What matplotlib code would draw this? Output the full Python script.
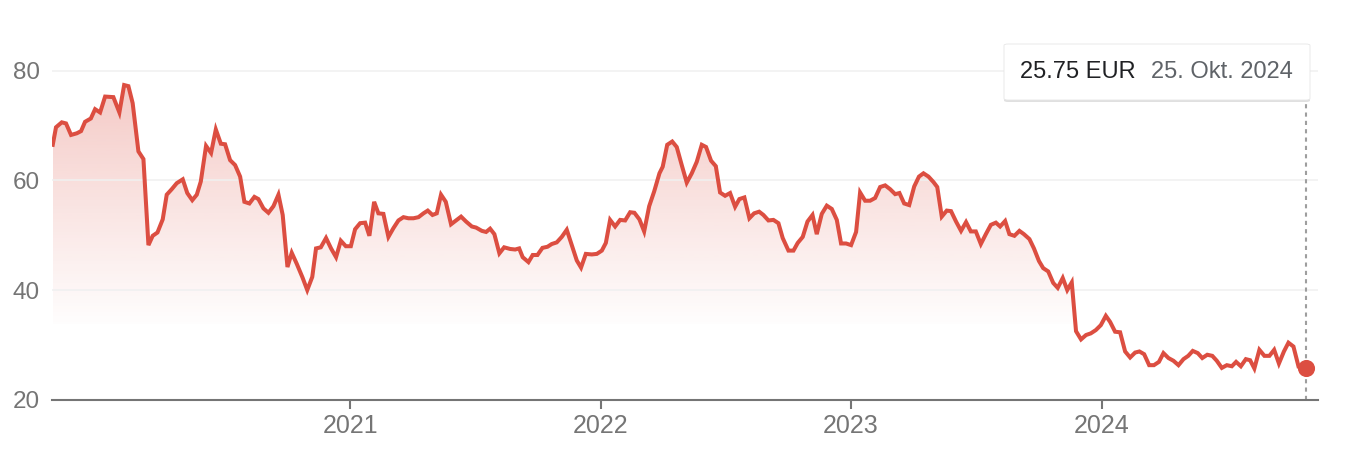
import matplotlib
matplotlib.use("Agg")
import matplotlib.pyplot as plt
import numpy as np
from matplotlib.patches import FancyBboxPatch

# weekly closing price (EUR), x as decimal year
years = [
    2019.813, 2019.826, 2019.849, 2019.866, 2019.886, 2019.909, 2019.926, 2019.942, 2019.965, 2019.982,
    2020.002, 2020.022, 2020.055, 2020.079, 2020.098, 2020.115, 2020.132, 2020.155, 2020.175, 2020.195,
    2020.212, 2020.231, 2020.252, 2020.268, 2020.288, 2020.308, 2020.332, 2020.350, 2020.370, 2020.388,
    2020.404, 2020.425, 2020.445, 2020.464, 2020.484, 2020.501, 2020.521, 2020.541, 2020.561, 2020.578,
    2020.598, 2020.618, 2020.634, 2020.654, 2020.674, 2020.694, 2020.714, 2020.731, 2020.750, 2020.767,
    2020.787, 2020.810, 2020.829, 2020.849, 2020.864, 2020.883, 2020.904, 2020.924, 2020.944, 2020.963,
    2020.983, 2021.003, 2021.020, 2021.040, 2021.060, 2021.077, 2021.096, 2021.113, 2021.133, 2021.153,
    2021.173, 2021.193, 2021.213, 2021.233, 2021.253, 2021.273, 2021.293, 2021.310, 2021.329, 2021.346,
    2021.363, 2021.382, 2021.403, 2021.423, 2021.443, 2021.463, 2021.486, 2021.503, 2021.526, 2021.543,
    2021.559, 2021.576, 2021.596, 2021.615, 2021.639, 2021.659, 2021.675, 2021.689, 2021.712, 2021.729,
    2021.748, 2021.768, 2021.788, 2021.805, 2021.825, 2021.845, 2021.865, 2021.885, 2021.905, 2021.922,
    2021.941, 2021.965, 2021.985, 2022.005, 2022.021, 2022.038, 2022.058, 2022.078, 2022.098, 2022.118,
    2022.135, 2022.155, 2022.174, 2022.194, 2022.214, 2022.235, 2022.248, 2022.266, 2022.286, 2022.304,
    2022.324, 2022.344, 2022.364, 2022.384, 2022.404, 2022.421, 2022.441, 2022.460, 2022.477, 2022.497,
    2022.517, 2022.537, 2022.554, 2022.574, 2022.594, 2022.613, 2022.633, 2022.650, 2022.670, 2022.690,
    2022.710, 2022.727, 2022.750, 2022.770, 2022.787, 2022.807, 2022.826, 2022.846, 2022.863, 2022.883,
    2022.903, 2022.923, 2022.943, 2022.960, 2022.980, 2023.000, 2023.020, 2023.036, 2023.056, 2023.076,
    2023.096, 2023.116, 2023.136, 2023.156, 2023.176, 2023.193, 2023.212, 2023.232, 2023.252, 2023.271,
    2023.289, 2023.309, 2023.329, 2023.344, 2023.362, 2023.382, 2023.399, 2023.419, 2023.439, 2023.459,
    2023.478, 2023.498, 2023.518, 2023.538, 2023.558, 2023.578, 2023.595, 2023.615, 2023.632, 2023.652,
    2023.672, 2023.690, 2023.712, 2023.730, 2023.750, 2023.767, 2023.787, 2023.807, 2023.825, 2023.845,
    2023.863, 2023.881, 2023.898, 2023.918, 2023.938, 2023.957, 2023.977, 2023.997, 2024.017, 2024.034,
    2024.054, 2024.074, 2024.094, 2024.114, 2024.134, 2024.151, 2024.170, 2024.190, 2024.209, 2024.229,
    2024.247, 2024.267, 2024.287, 2024.307, 2024.327, 2024.346, 2024.364, 2024.384, 2024.402, 2024.422,
    2024.442, 2024.460, 2024.480, 2024.500, 2024.520, 2024.537, 2024.556, 2024.576, 2024.593, 2024.610,
    2024.630, 2024.650, 2024.670, 2024.689, 2024.708, 2024.728, 2024.746, 2024.766, 2024.786, 2024.806,
    2024.817,
]
prices = [
    66.5, 69.7, 70.6, 70.4, 68.3, 68.6, 69.0, 70.7, 71.3, 73.0,
    72.4, 75.3, 75.2, 72.4, 77.4, 77.2, 74.1, 65.3, 63.9, 48.2,
    49.9, 50.5, 52.9, 57.4, 58.4, 59.5, 60.2, 57.7, 56.4, 57.4,
    59.8, 66.3, 65.0, 69.3, 66.7, 66.6, 63.7, 62.8, 60.7, 56.1,
    55.8, 57.0, 56.6, 54.9, 54.1, 55.3, 57.4, 53.7, 44.2, 46.8,
    44.8, 42.3, 40.0, 42.4, 47.6, 47.8, 49.5, 47.6, 46.0, 49.0,
    48.0, 48.0, 51.1, 52.2, 52.3, 49.9, 56.1, 54.0, 53.9, 49.7,
    51.3, 52.7, 53.3, 53.1, 53.1, 53.3, 54.0, 54.5, 53.7, 54.0,
    57.4, 56.1, 52.0, 52.7, 53.4, 52.5, 51.6, 51.4, 50.8, 50.6,
    51.2, 50.2, 46.7, 47.8, 47.5, 47.4, 47.6, 46.0, 45.1, 46.4,
    46.4, 47.7, 47.9, 48.4, 48.7, 49.7, 51.0, 48.2, 45.4, 44.1,
    46.6, 46.5, 46.6, 47.2, 48.6, 52.8, 51.6, 52.8, 52.7, 54.2,
    54.1, 52.9, 50.7, 55.3, 58.0, 61.3, 62.5, 66.5, 67.1, 66.1,
    62.8, 59.6, 61.3, 63.4, 66.5, 66.1, 63.6, 62.6, 57.8, 57.2,
    57.7, 55.2, 56.6, 56.9, 53.1, 54.0, 54.3, 53.7, 52.7, 52.8,
    52.2, 49.5, 47.2, 47.2, 48.6, 49.7, 52.5, 53.7, 50.2, 53.9,
    55.4, 54.8, 52.8, 48.5, 48.5, 48.2, 50.6, 57.8, 56.3, 56.3,
    56.8, 58.8, 59.1, 58.4, 57.5, 57.7, 55.8, 55.5, 58.9, 60.7,
    61.3, 60.7, 59.7, 58.8, 53.4, 54.5, 54.4, 52.5, 50.8, 52.4,
    50.7, 50.7, 48.4, 50.2, 51.9, 52.3, 51.6, 52.6, 50.2, 49.9,
    50.8, 50.2, 49.3, 47.6, 45.3, 44.0, 43.4, 41.3, 40.4, 42.2,
    40.0, 41.4, 32.5, 31.0, 31.8, 32.1, 32.7, 33.6, 35.3, 34.2,
    32.4, 32.3, 28.8, 27.7, 28.6, 28.8, 28.3, 26.3, 26.3, 26.9,
    28.5, 27.6, 27.1, 26.3, 27.4, 28.0, 28.9, 28.5, 27.6, 28.2,
    28.0, 27.1, 25.8, 26.3, 26.1, 26.9, 26.1, 27.4, 27.2, 25.7,
    29.1, 28.0, 28.0, 29.1, 26.6, 28.8, 30.4, 29.7, 26.1, 26.3,
    25.75,
]
year_ticks = [2021, 2022, 2023, 2024]
price_ticks = [20, 40, 60, 80]
tip_price = "25.75 EUR"
tip_date = "25. Okt. 2024"

RED = "#dc4e41"
GREY = "#757575"

plt.rcParams["font.family"] = ["Liberation Sans", "DejaVu Sans"]

W, H = 1346, 468
fig = plt.figure(figsize=(W / 100, H / 100), dpi=100)
ax = fig.add_axes([52 / W, 68.3 / H, 1266 / W, 370 / H])

x = np.array(years)
y = np.array(prices)

ax.set_xlim(2019.810, 2024.864)
ax.set_ylim(20, 87.5)

# gradient fill under the line
poly = ax.fill_between(x, y, 20, color="none", lw=0)
grad = np.zeros((256, 1, 4))
grad[..., :3] = matplotlib.colors.to_rgb(RED)
grad[:, 0, 3] = np.linspace(0.30, 0.01, 256)
img = ax.imshow(grad, extent=[x[0], x[-1], 33.8, y.max()], aspect="auto",
                origin="upper", zorder=1, interpolation="bilinear")
img.set_clip_path(poly.get_paths()[0], transform=ax.transData)

ax.plot(x, y, color=RED, lw=2.9, solid_joinstyle="miter", zorder=3)
ax.plot(x[-1], y[-1], "o", color=RED, ms=11.3, zorder=4)

# grid (drawn over the fill, as in the reference)
for v in price_ticks[1:]:
    ax.axhline(v, color="#f0f0f0", lw=1.4, alpha=0.8, zorder=1.5)
for s in ("top", "right", "left"):
    ax.spines[s].set_visible(False)
ax.spines["bottom"].set_color(GREY)
ax.spines["bottom"].set_linewidth(1.5)
ax.set_xticks(year_ticks)
ax.set_xticklabels([str(t) for t in year_ticks])
ax.set_yticks(price_ticks)
ax.set_yticklabels([str(t) for t in price_ticks])
ax.tick_params(axis="x", length=6.5, width=1.5, color=GREY, labelcolor=GREY,
               labelsize=18, pad=4)
ax.tick_params(axis="y", length=0, labelcolor=GREY, labelsize=17.5, pad=9)

# hover crosshair + tooltip
tip_bottom = 20 + (399.7 - 100) / 5.48
ax.plot([x[-1], x[-1]], [20, tip_bottom], color="#9e9e9e", lw=1.5,
        ls=(0, (2, 2)), zorder=2)

bx, by, bw, bh = 1004 / W, (H - 100) / H, 306 / W, 56 / H
shadow = FancyBboxPatch((bx, by - 2 / H), bw, bh, boxstyle="round,pad=0,rounding_size=0.003",
                        transform=fig.transFigure, fc="#000000", ec="none", alpha=0.12)
box = FancyBboxPatch((bx, by), bw, bh, boxstyle="round,pad=0,rounding_size=0.003",
                     transform=fig.transFigure, fc="white", ec="#e6e6e6", lw=0.6)
fig.patches.extend([shadow, box])
fig.text(1020 / W, (H - 72) / H, tip_price, color="#202124", fontsize=17,
         va="center", ha="left")
fig.text(1151 / W, (H - 72) / H, tip_date, color="#5f6368", fontsize=17,
         va="center", ha="left")

fig.savefig("out.png", dpi=100)
